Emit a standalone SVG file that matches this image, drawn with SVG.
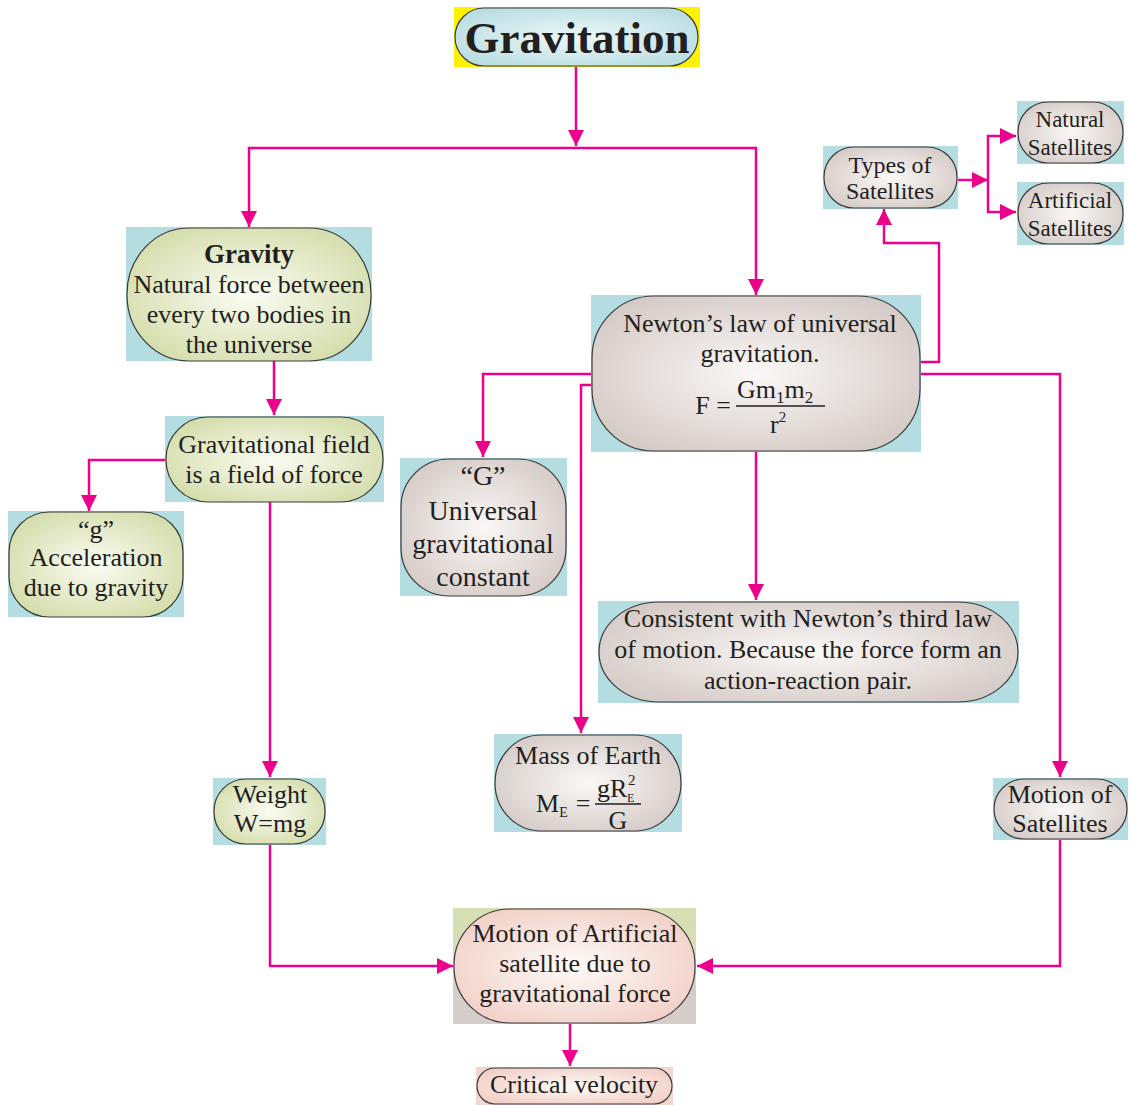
<svg xmlns="http://www.w3.org/2000/svg" width="1131" height="1105" viewBox="0 0 1131 1105">
<defs>
<radialGradient id="gGreen" cx="50%" cy="50%" r="60%"><stop offset="0" stop-color="#fbfcf3"/><stop offset="1" stop-color="#d3dca9"/></radialGradient>
<radialGradient id="gGray" cx="50%" cy="50%" r="60%"><stop offset="0" stop-color="#faf8f7"/><stop offset="1" stop-color="#d4cac6"/></radialGradient>
<radialGradient id="gPink" cx="50%" cy="50%" r="60%"><stop offset="0" stop-color="#fefaf8"/><stop offset="1" stop-color="#f1cfc6"/></radialGradient>
<radialGradient id="gBlue" cx="50%" cy="50%" r="60%"><stop offset="0" stop-color="#eef8f9"/><stop offset="1" stop-color="#b9dde2"/></radialGradient>
<linearGradient id="bgMix" x1="0" y1="0" x2="0" y2="1"><stop offset="0" stop-color="#d6e0b1"/><stop offset="0.6" stop-color="#d6dcbd"/><stop offset="0.7" stop-color="#d5cdc9"/><stop offset="1" stop-color="#d5cdc9"/></linearGradient>
<marker id="arr" markerUnits="userSpaceOnUse" markerWidth="18" markerHeight="16" refX="16" refY="8" orient="auto"><path d="M0,0 L16,8 L0,16 z" fill="#ec008c"/></marker>
</defs>
<style>
.bg{fill:#b3dde1}
.sh{stroke:#3a3a3a;stroke-width:1.2}
.gr{fill:url(#gGreen)}
.gy{fill:url(#gGray)}
.pk{fill:url(#gPink)}
text{font-family:"Liberation Serif","Times New Roman",serif;fill:#231f20;text-anchor:middle}
.c{fill:none;stroke:#ec008c;stroke-width:2.5}
</style>

<g id="connectors">
<path class="c" d="M576,67 V146" marker-end="url(#arr)"/>
<path class="c" d="M576,148 H249 V227" marker-end="url(#arr)"/>
<path class="c" d="M576,148 H756 V295" marker-end="url(#arr)"/>
<path class="c" d="M274,361 V415" marker-end="url(#arr)"/>
<path class="c" d="M166,460 H89 V511" marker-end="url(#arr)"/>
<path class="c" d="M270,502 V777" marker-end="url(#arr)"/>
<path class="c" d="M270,845 V966 H453" marker-end="url(#arr)"/>
<path class="c" d="M591,374 H483 V457" marker-end="url(#arr)"/>
<path class="c" d="M591,385 H581 V733" marker-end="url(#arr)"/>
<path class="c" d="M756,452 V600" marker-end="url(#arr)"/>
<path class="c" d="M921,374 H1060 V777" marker-end="url(#arr)"/>
<path class="c" d="M921,362 H939 V243 H884 V209" marker-end="url(#arr)"/>
<path class="c" d="M1060,840 V966 H697" marker-end="url(#arr)"/>
<path class="c" d="M570,1024 V1066" marker-end="url(#arr)"/>
<path class="c" d="M958,180 H988" marker-end="url(#arr)"/>
<path class="c" d="M988,180 V136 H1016" marker-end="url(#arr)"/>
<path class="c" d="M988,180 V212 H1016" marker-end="url(#arr)"/>
</g>

<g id="title">
<rect x="454" y="7" width="246" height="60" fill="#fff200"/>
<rect class="sh" x="455" y="8" width="243" height="58" rx="29" fill="url(#gBlue)"/>
<text x="577" y="53" font-size="45" font-weight="bold">Gravitation</text>
</g>

<g font-size="26">
<g id="gravity">
<rect class="bg" x="126" y="227" width="246" height="134"/>
<rect class="sh gr" x="127" y="228" width="244" height="133" rx="62" ry="66"/>
<text x="249" y="263" font-weight="bold" font-size="27">Gravity</text>
<text x="249" y="293">Natural force between</text>
<text x="249" y="323">every two bodies in</text>
<text x="249" y="353">the universe</text>
</g>

<g id="grav-field">
<rect class="bg" x="165" y="416" width="219" height="86"/>
<rect class="sh gr" x="166" y="417" width="217" height="85" rx="42"/>
<text x="274" y="453">Gravitational field</text>
<text x="274" y="483">is a field of force</text>
</g>

<g id="g-accel">
<rect class="bg" x="8" y="511" width="176" height="106"/>
<rect class="sh gr" x="9" y="512" width="174" height="105" rx="40"/>
<text x="96" y="538" font-size="26">“g”</text>
<text x="96" y="566" font-size="26">Acceleration</text>
<text x="96" y="596" font-size="26">due to gravity</text>
</g>

<g id="weight">
<rect class="bg" x="213" y="778" width="113" height="67"/>
<rect class="sh gr" x="214" y="779" width="111" height="65" rx="32"/>
<text x="270" y="803">Weight</text>
<text x="270" y="832">W=mg</text>
</g>

<g id="newton">
<rect class="bg" x="591" y="295" width="330" height="157"/>
<rect class="sh gy" x="592" y="296" width="328" height="155" rx="62"/>
<text x="760" y="332">Newton’s law of universal</text>
<text x="760" y="362">gravitation.</text>
<text x="713" y="414">F =</text>
<text x="737" y="398" style="text-anchor:start">Gm<tspan font-size="17" dy="5">1</tspan><tspan dy="-5">m</tspan><tspan font-size="17" dy="5">2</tspan></text>
<line x1="736" y1="406" x2="825" y2="406" stroke="#231f20" stroke-width="1.3"/>
<text x="770" y="433" style="text-anchor:start">r<tspan font-size="15" dy="-11">2</tspan></text>
</g>

<g id="G-const">
<rect class="bg" x="400" y="458" width="167" height="138"/>
<rect class="sh gy" x="401" y="459" width="165" height="137" rx="48"/>
<text x="483" y="485" font-size="28">“G”</text>
<text x="483" y="520" font-size="28">Universal</text>
<text x="483" y="553" font-size="28">gravitational</text>
<text x="483" y="586" font-size="28">constant</text>
</g>

<g id="consistent">
<rect class="bg" x="598" y="601" width="421" height="102"/>
<rect class="sh gy" x="599" y="602" width="419" height="100" rx="60" ry="50"/>
<text x="808" y="627">Consistent with Newton’s third law</text>
<text x="808" y="658">of motion. Because the force form an</text>
<text x="808" y="689">action-reaction pair.</text>
</g>

<g id="mass-earth">
<rect class="bg" x="494" y="734" width="188" height="98"/>
<rect class="sh gy" x="495" y="735" width="186" height="96" rx="46" ry="48"/>
<text x="588" y="764">Mass of Earth</text>
<text x="536" y="812" style="text-anchor:start">M<tspan font-size="14" dy="5">E</tspan></text>
<text x="583" y="812">=</text>
<text x="597" y="797" style="text-anchor:start">gR</text>
<text x="628" y="785" font-size="15" style="text-anchor:start">2</text>
<text x="627" y="802" font-size="12" style="text-anchor:start">E</text>
<line x1="595" y1="804" x2="641" y2="804" stroke="#231f20" stroke-width="1.3"/>
<text x="618" y="829">G</text>
</g>

<g id="motion-sat">
<rect class="bg" x="993" y="778" width="135" height="62"/>
<rect class="sh gy" x="994" y="779" width="133" height="60" rx="30"/>
<text x="1060" y="803">Motion of</text>
<text x="1060" y="832">Satellites</text>
</g>

<g id="types-sat">
<rect class="bg" x="823" y="146" width="135" height="63"/>
<rect class="sh gy" x="824" y="147" width="133" height="61" rx="30"/>
<text x="890" y="173" font-size="24">Types of</text>
<text x="890" y="199" font-size="24">Satellites</text>
</g>

<g id="natural-sat">
<rect class="bg" x="1017" y="101" width="107" height="63"/>
<rect class="sh gy" x="1018" y="102" width="105" height="61" rx="30"/>
<text x="1070" y="127" font-size="23">Natural</text>
<text x="1070" y="155" font-size="23">Satellites</text>
</g>

<g id="artificial-sat">
<rect class="bg" x="1017" y="182" width="107" height="63"/>
<rect class="sh gy" x="1018" y="183" width="105" height="61" rx="30"/>
<text x="1070" y="208" font-size="23">Artificial</text>
<text x="1070" y="236" font-size="23">Satellites</text>
</g>

<g id="motion-artificial">
<rect x="453" y="908" width="243" height="116" fill="url(#bgMix)"/>
<rect class="sh pk" x="454" y="909" width="241" height="114" rx="56"/>
<text x="575" y="942">Motion of Artificial</text>
<text x="575" y="972">satellite due to</text>
<text x="575" y="1002">gravitational force</text>
</g>

<g id="critical-velocity">
<rect x="476" y="1067" width="197" height="38" fill="#f3d6cd"/>
<rect class="sh pk" x="477" y="1068" width="195" height="36" rx="18"/>
<text x="574" y="1093">Critical velocity</text>
</g>
</g>
</svg>
